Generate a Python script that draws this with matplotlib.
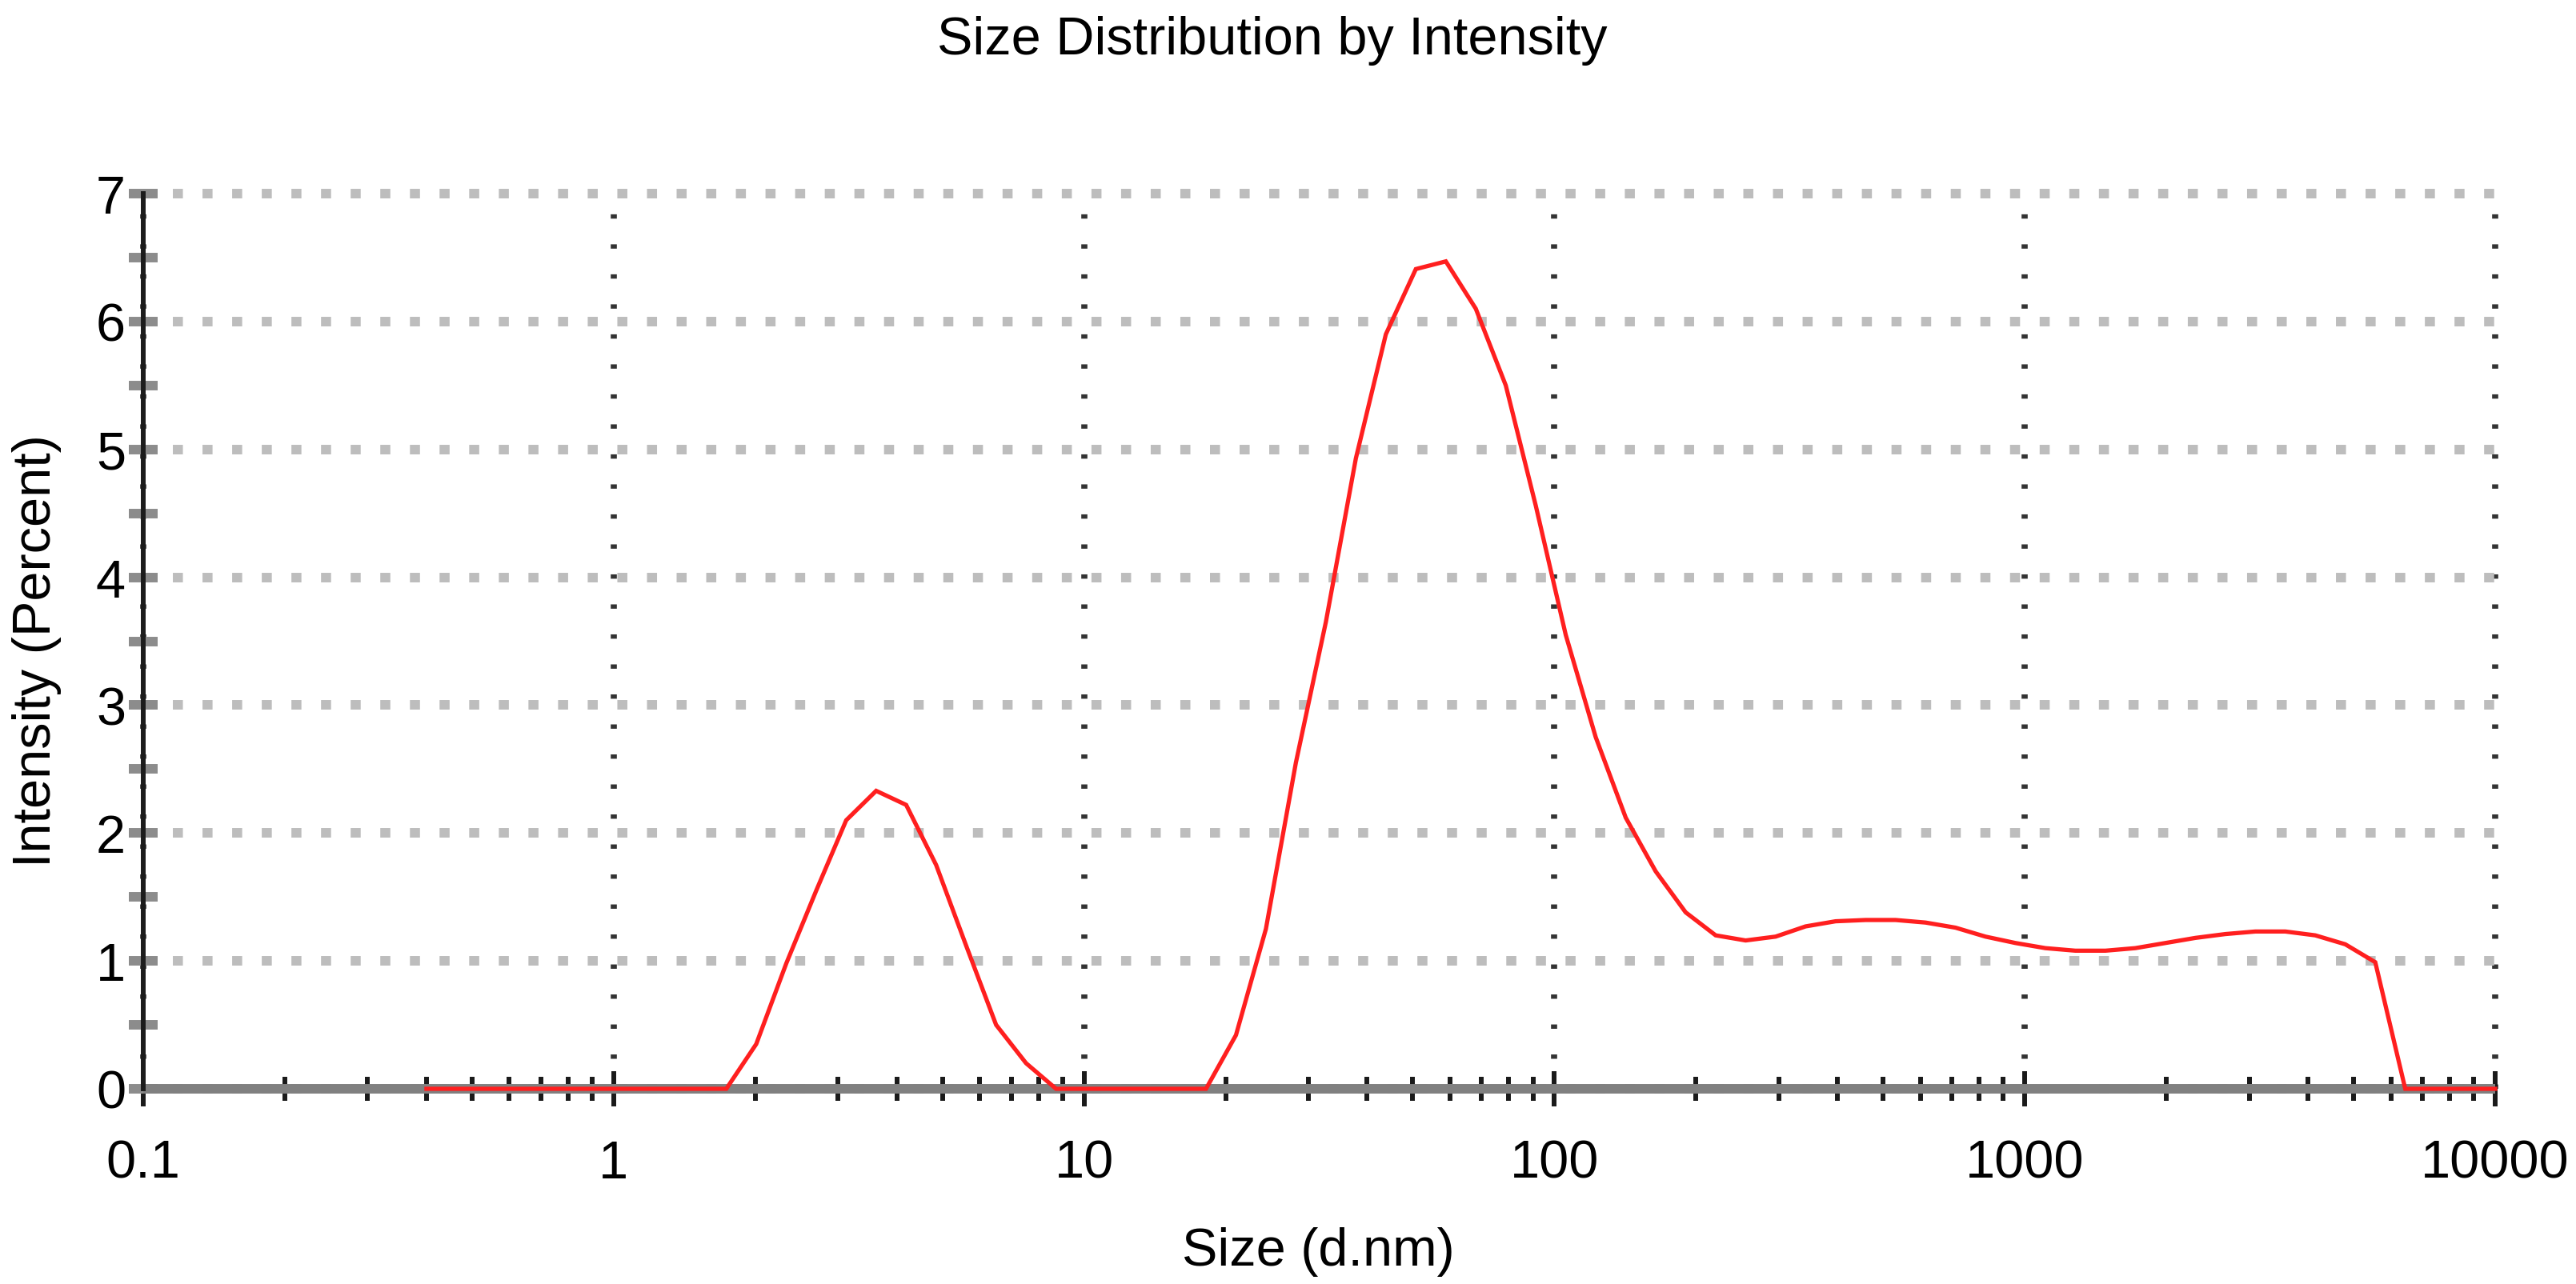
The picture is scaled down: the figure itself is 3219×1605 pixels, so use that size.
import matplotlib
matplotlib.use("Agg")
import matplotlib.pyplot as plt
from matplotlib.ticker import FixedLocator, LogLocator, NullFormatter, MultipleLocator

# ---- data ----
size_nm = [0.4, 0.4632, 0.5365, 0.6213, 0.7195, 0.8332, 0.9649, 1.117, 1.294, 1.499,
           1.736, 2.01, 2.328, 2.696, 3.122, 3.615, 4.187, 4.849, 5.615, 6.503,
           7.531, 8.721, 10.1, 11.7, 13.54, 15.69, 18.17, 21.04, 24.36, 28.21,
           32.67, 37.84, 43.82, 50.75, 58.77, 68.06, 78.82, 91.28, 105.7, 122.4,
           141.8, 164.2, 190.1, 220.2, 255.0, 295.3, 342.0, 396.1, 458.7, 531.2,
           615.1, 712.4, 825.0, 955.4, 1106, 1281, 1484, 1718, 1990, 2305,
           2669, 3091, 3580, 4145, 4801, 5560, 6439, 7456, 8635, 10000]
intensity = [0, 0, 0, 0, 0, 0, 0, 0, 0, 0,
             0, 0.35, 0.98, 1.55, 2.10, 2.33, 2.22, 1.75, 1.12, 0.50,
             0.20, 0, 0, 0, 0, 0, 0, 0.42, 1.25, 2.55,
             3.65, 4.93, 5.90, 6.41, 6.47, 6.10, 5.50, 4.56, 3.55, 2.75,
             2.12, 1.70, 1.38, 1.20, 1.16, 1.19, 1.27, 1.31, 1.32, 1.32,
             1.30, 1.26, 1.19, 1.14, 1.10, 1.08, 1.08, 1.10, 1.14, 1.18,
             1.21, 1.23, 1.23, 1.20, 1.13, 0.99, 0, 0, 0, 0]

x_ticks = [0.1, 1, 10, 100, 1000, 10000]
x_tick_labels = ["0.1", "1", "10", "100", "1000", "10000"]
y_ticks = [0, 1, 2, 3, 4, 5, 6, 7]
y_tick_labels = ["0", "1", "2", "3", "4", "5", "6", "7"]

title = "Size Distribution by Intensity"
x_label = "Size (d.nm)"
y_label = "Intensity (Percent)"

# ---- figure ----
plt.rcParams["font.family"] = ["Liberation Sans", "DejaVu Sans"]
FS = 48
W, H = 3219, 1606
fig = plt.figure(figsize=(W / 100, H / 100), dpi=100)
ax_l, ax_r, ax_t, ax_b = 179, 3118, 243, 1362
ax = fig.add_axes([ax_l / W, 1 - ax_b / H, (ax_r - ax_l) / W, (ax_b - ax_t) / H])

ax.plot(size_nm, intensity, color="#ff1f1f", lw=3.8, zorder=5, clip_on=False,
        solid_joinstyle="miter")

ax.set_xscale("log")
ax.set_xlim(0.1, 10000)
ax.set_ylim(0, 7)

ax.xaxis.set_major_locator(FixedLocator(x_ticks))
ax.set_xticklabels(x_tick_labels)
ax.xaxis.set_minor_locator(LogLocator(base=10, subs=[2, 3, 4, 5, 6, 7, 8, 9], numticks=20))
ax.xaxis.set_minor_formatter(NullFormatter())
ax.yaxis.set_major_locator(FixedLocator(y_ticks))
ax.set_yticklabels(y_tick_labels)
ax.yaxis.set_minor_locator(MultipleLocator(0.5))

# spines
for s in ("top", "right"):
    ax.spines[s].set_visible(False)
ax.spines["bottom"].set_color("#808080")
ax.spines["bottom"].set_linewidth(8.6)
ax.spines["bottom"].set_capstyle("butt")
ax.spines["left"].set_color("#1c1c1c")
ax.spines["left"].set_linewidth(4.3)
ax.spines["left"].set_zorder(4)

# ticks
ax.tick_params(axis="x", which="major", direction="inout", length=31.7, width=4.3,
               color="#1a1a1a", pad=29.5, labelsize=FS)
ax.tick_params(axis="x", which="minor", direction="inout", length=21.6, width=4.3,
               color="#1a1a1a")
ax.tick_params(axis="y", which="both", direction="inout", length=26.6, width=8.6,
               color="#8c8c8c", pad=2.5, labelsize=FS)

# grid
ax.grid(axis="y", which="major", color="#bdbdbd", lw=8.6, linestyle=(0, (1.05, 2.05)))
ax.grid(axis="x", which="major", color="#333333", lw=5.5, linestyle=(0, (0.71, 4.2)))
for gl in ax.xaxis.get_gridlines() + ax.yaxis.get_gridlines():
    gl.set_clip_on(False)
ax.set_axisbelow(True)

# texts
fig.text(1590 / W, 1 - 68 / H, title, ha="center", va="baseline", fontsize=FS)
fig.text(1647 / W, 1 - 1582 / H, x_label, ha="center", va="baseline", fontsize=FS)
fig.text(46 / W, 1 - 814 / H, y_label, ha="center", va="center", rotation=90, fontsize=FS)

fig.savefig("out.png", dpi=100, facecolor="white")
